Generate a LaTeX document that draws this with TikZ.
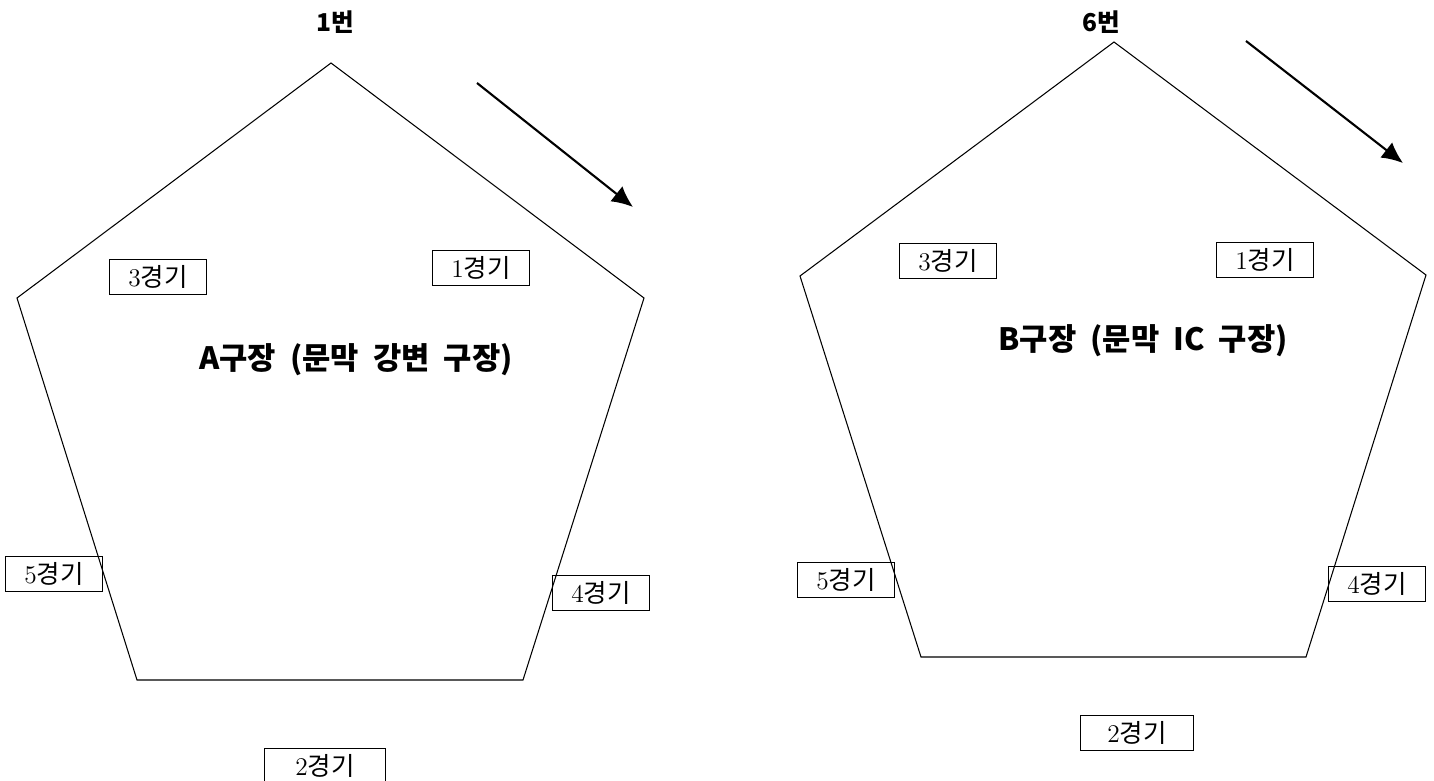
\documentclass[tikz,border=0pt]{standalone}
\usepackage{fontspec}
\newfontfamily\kr{Noto Sans CJK KR}
\usetikzlibrary{arrows.meta}
\tikzset{
  game/.style={draw, line width=0.7pt, inner sep=0pt, minimum width=97*0.02cm,
    minimum height=35*0.02cm, font=\fontsize{14.5}{16}\selectfont},
  field/.style={font=\kr\bfseries\fontsize{17.5}{20}\selectfont},
  pent/.style={line width=0.6pt},
  turn/.style={->, line width=1.2pt}
}
\newcommand{\gm}[1]{#1{\kr 경기}}
\begin{document}
\begin{tikzpicture}[x=0.02cm, y=-0.02cm, >={Latex[length=12pt,width=11pt]}]
    \useasboundingbox (0,0) rectangle (1434,781);

    % Points
    \coordinate (A1) at (331,63);
    \coordinate (A2) at (644,298);
    \coordinate (A3) at (523,680);
    \coordinate (A4) at (137,680);
    \coordinate (A5) at (17,298);
    \coordinate (B1) at (1114,42);
    \coordinate (B2) at (1426,275);
    \coordinate (B3) at (1306,657);
    \coordinate (B4) at (921,657);
    \coordinate (B5) at (800,276);

    % Pentagons
    \draw[pent] (A1) -- (A2) -- (A3) -- (A4) -- (A5) -- cycle;
    \draw[pent] (B1) -- (B2) -- (B3) -- (B4) -- (B5) -- cycle;

    % Labels
    \node[font=\kr\bfseries\fontsize{14}{16}\selectfont] (noA) at (335,22) {1번};
    \node[font=\kr\bfseries\fontsize{14}{16}\selectfont] (noB) at (1101,22) {6번};
    \node[field] (fieldA) at (356,360) {A구장 \ (문막 \ 강변 \ 구장)};
    \node[field] (fieldB) at (1143,341) {B구장 \ (문막 \ IC \ 구장)};

    % Games
    \node[game] (a3) at (158,277) {\gm{3}};
    \node[game] (a1) at (481,268) {\gm{1}};
    \node[game] (a5) at (54,574) {\gm{5}};
    \node[game] (a4) at (601,593) {\gm{4}};
    \node[game, minimum width=121*0.02cm] (a2) at (325,766) {\gm{2}};
    \node[game] (b3) at (948,261) {\gm{3}};
    \node[game] (b1) at (1265,260) {\gm{1}};
    \node[game] (b5) at (846,580) {\gm{5}};
    \node[game] (b4) at (1377,584) {\gm{4}};
    \node[game, minimum width=113*0.02cm] (b2) at (1137,733) {\gm{2}};

    % Arrows
    \coordinate (sA) at (477,83);
    \coordinate (tA) at (633,207);
    \coordinate (sB) at (1246,41);
    \coordinate (tB) at (1403,163);
    \draw[turn] (sA) -- (tA);
    \draw[turn] (sB) -- (tB);
\end{tikzpicture}
\end{document}
